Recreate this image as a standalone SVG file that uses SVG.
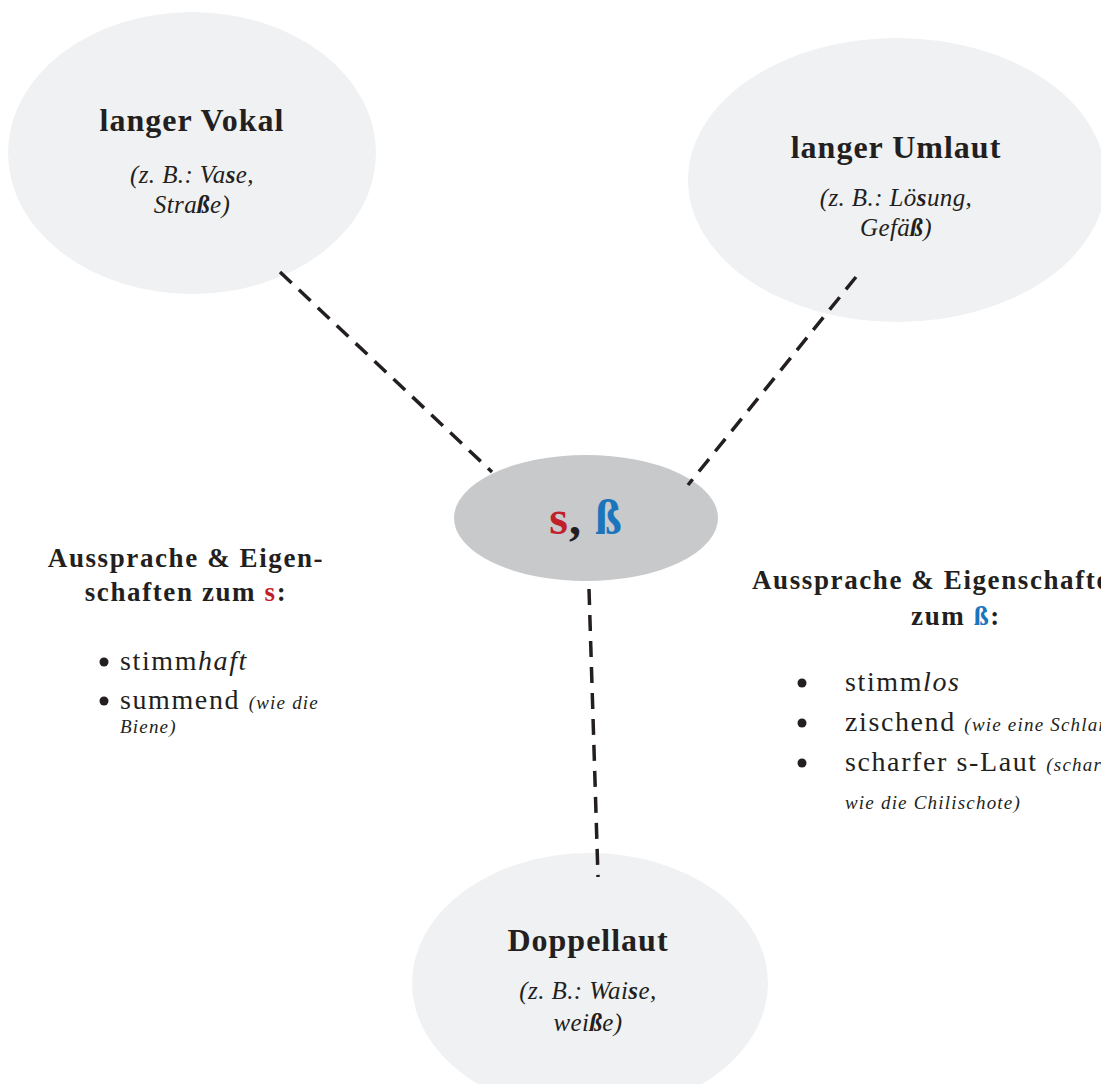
<svg xmlns="http://www.w3.org/2000/svg" width="1101" height="1084" viewBox="0 0 1101 1084">
<style>
.bub{fill:#f0f1f3}
.ctr{fill:#c8c9cb}
.t{font-family:"Liberation Serif","DejaVu Serif",serif;fill:#231f20}
.h{font-size:32px;font-weight:bold;text-anchor:middle;letter-spacing:1px}
.ex{font-size:25px;font-style:italic;text-anchor:middle;letter-spacing:0.4px}
.hd{font-size:27px;font-weight:bold;letter-spacing:1.6px}
.mid{text-anchor:middle}
.li{font-size:28px;letter-spacing:1.6px}
.sm{font-size:19px;font-style:italic;letter-spacing:1.2px}
.red{fill:#c1202b}
.blue{fill:#1b75bc}
.dash{stroke:#231f20;stroke-width:3.5;stroke-dasharray:16 10;fill:none}
</style>
<rect width="1101" height="1084" fill="#ffffff"/>
<g id="node-vokal">
<ellipse class="bub" cx="192" cy="153" rx="184" ry="141"/>
<text class="t h" x="192" y="131">langer Vokal</text>
<text class="t ex" x="192" y="183">(z. B.: Va<tspan font-weight="bold">s</tspan>e,</text>
<text class="t ex" x="192" y="213">Stra<tspan font-weight="bold">ß</tspan>e)</text>
</g>
<g id="node-umlaut">
<ellipse class="bub" cx="897" cy="180" rx="209" ry="142"/>
<text class="t h" x="896" y="158">langer Umlaut</text>
<text class="t ex" x="896" y="206">(z. B.: Lö<tspan font-weight="bold">s</tspan>ung,</text>
<text class="t ex" x="896" y="236">Gefä<tspan font-weight="bold">ß</tspan>)</text>
</g>
<g id="node-center">
<ellipse class="ctr" cx="586" cy="518" rx="132" ry="63"/>
<text class="t" x="586" y="534" font-size="48" font-weight="bold" text-anchor="middle" letter-spacing="1"><tspan class="red">s</tspan>, <tspan class="blue">ß</tspan></text>
</g>
<g id="node-doppel">
<ellipse class="bub" cx="590" cy="983" rx="178" ry="130"/>
<text class="t h" x="588" y="951">Doppellaut</text>
<text class="t ex" x="588" y="999">(z. B.: Wai<tspan font-weight="bold">s</tspan>e,</text>
<text class="t ex" x="588" y="1031">wei<tspan font-weight="bold">ß</tspan>e)</text>
</g>
<g id="connectors">
<line class="dash" x1="280" y1="272" x2="492" y2="472"/>
<line class="dash" x1="856" y1="277" x2="688" y2="485"/>
<line class="dash" x1="589" y1="589" x2="598" y2="877"/>
</g>
<g id="text-s">
<text class="t hd mid" x="186" y="567">Aussprache &amp; Eigen-</text>
<text class="t hd mid" x="186" y="601">schaften zum <tspan class="red">s</tspan>:</text>
<circle cx="104" cy="662" r="4.5" fill="#231f20"/>
<circle cx="104" cy="701" r="4.5" fill="#231f20"/>
<text class="t li" x="120" y="670">stimm<tspan font-style="italic">haft</tspan></text>
<text class="t li" x="120" y="709">summend <tspan class="sm">(wie die</tspan></text>
<text class="t sm" x="120" y="733">Biene)</text>
</g>
<g id="text-sz">
<text class="t hd" x="752" y="589">Aussprache &amp; Eigenschaften</text>
<text class="t hd mid" x="956" y="625">zum <tspan class="blue">ß</tspan>:</text>
<circle cx="802" cy="683" r="4.5" fill="#231f20"/>
<circle cx="802" cy="723" r="4.5" fill="#231f20"/>
<circle cx="802" cy="763" r="4.5" fill="#231f20"/>
<text class="t li" x="845" y="691">stimm<tspan font-style="italic">los</tspan></text>
<text class="t li" x="845" y="731">zischend <tspan class="sm">(wie eine Schlange)</tspan></text>
<text class="t li" x="845" y="771"> scharfer s-Laut <tspan class="sm">(scharf</tspan></text>
<text class="t sm" x="845" y="809">wie die Chilischote)</text>
</g>
</svg>
